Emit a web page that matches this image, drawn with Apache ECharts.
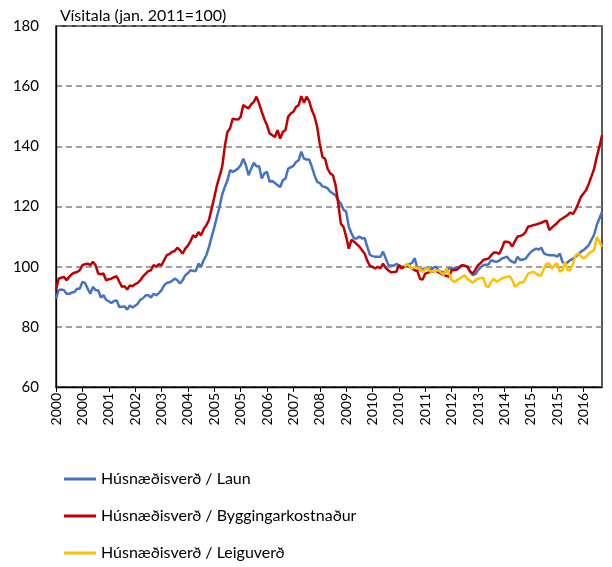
<!DOCTYPE html>
<html>
<head>
<meta charset="utf-8">
<script src="https://cdn.jsdelivr.net/npm/echarts@6/dist/echarts.min.js"></script>
<style>
html,body{margin:0;padding:0;background:#fff;}
#c{width:612px;height:567px;}
</style>
</head>
<body>
<div id="c"></div>
<script>
// Monthly values, Jan 2000 – Apr 2017 (index Jan 2011 = 100)
const startYear = 2000;
const seriesNames = ['Húsnæðisverð / Laun', 'Húsnæðisverð / Byggingarkostnaður', 'Húsnæðisverð / Leiguverð'];
const yTicks = [60, 80, 100, 120, 140, 160, 180];
const titleText = 'Vísitala (jan. 2011=100)';

const laun = [
  89.4,92.2,92.4,92.2,91,91,91.4,91.6,92.7,92.7,94.9,94.6,
  92.7,91,93.3,92.2,92.2,89.7,90.5,89,88.5,87.9,88.6,88.8,
  86.6,86.7,86.8,85.7,87.1,86.4,87,87.7,89,89.5,90.5,90.5,
  89.7,91,90.5,91.2,92.2,93.8,94.6,94.8,95.3,96,95.5,94.4,
  95.5,97.1,97.8,98.8,98.6,98.6,101,100,102.2,103.8,106.6,109.9,
  113,116.5,119.9,124,126.5,128.7,132.1,131.5,132,132.6,133.7,135.9,
  133.7,130.4,132.6,134.5,133.4,133.4,129.3,131,131.5,128.2,128.5,127.8,
  127.1,126.5,128.7,129.3,132.6,133,133.5,134.8,135.4,138.2,135.9,135.6,
  135.6,133.2,130.4,128.2,127.8,126.7,126.5,126,124.9,124.3,123.7,122.1,
  121,118.9,118.3,113.3,111.1,109.4,109.4,110,109.4,109.5,106.7,103.9,
  103.5,103.3,103.3,103.3,105,102.8,100.5,100.4,100.3,100.9,100.5,100,
  100,100.5,100.8,101.3,102.8,99.4,98.8,99.2,99.4,99.3,99,99.6,
  100,98.8,98.3,98,98.5,99.4,99.4,99.5,99.8,100,100.5,100.2,
  100,98.5,97.2,97.5,98.8,99.8,100.5,100.6,100.8,102.2,101.8,101.6,
  102,102.7,103,103.3,102.2,101.6,101.3,103.3,102.2,102.4,102.6,103.8,
  104.9,105.5,106,105.7,106.3,104.4,104,103.8,103.8,103.8,103.3,104.4,
  101.6,100.9,101.5,102.2,102.7,103.3,104,105,105.5,106.3,107.2,108.9,
  110.6,113.8,116,118.2
];

const byggingarkostnadur = [
  92.2,96,96.3,96.6,95.5,96.6,97.5,98,98.2,98.8,100.5,100.8,
  101,100.5,101.6,100.5,97.7,97.5,97.7,95.5,95.8,96,96.5,96.8,
  95,93.3,93.5,92.4,93.8,93.5,94.2,94.6,95.5,96.8,97.7,98.5,
  98.8,100.5,100,100.8,100.4,102.2,103.8,104.2,104.9,105.2,106.3,105.5,
  104.3,106,107,108.5,110.4,109.8,111.5,110.4,112.5,113.8,115.5,119.3,
  123,127,130,133.2,140,144.8,146,149.2,149,148.9,149.8,153.7,
  153.1,152.6,154,154.8,156.5,154.2,151.5,149,147,144.3,143.7,143.1,
  145.4,142.6,144.8,145.4,149.8,150.9,151.5,153.1,153.7,156.7,154.5,156.5,
  155,152,150,146.5,140.9,136.5,135.9,132.5,131,130.4,127.1,121,
  114.3,113.2,110,106,108.9,108.3,107.5,106.7,105.5,104.4,102,100.2,
  100,99.4,100,99.4,101,99.6,98.8,98.1,98.2,98.3,100.5,99.4,
  100,100.5,100,99.4,98.8,98.5,96,95.7,97.7,98,98.3,98.5,
  98.6,98.2,97.7,97.2,97,96.6,98.8,98.9,99,99.8,100.5,100.3,
  100,98.3,97.7,99,100.5,101.2,102.2,102.5,102.7,103.8,104.7,104.7,
  104.2,106,108.3,108.3,108,106.7,108.5,110,110.2,110.6,111.5,113.3,
  113.5,113.8,114,114.3,114.6,115,115.3,112.2,113,113.8,114.5,115.5,
  116,116.6,117.2,118,117.5,119,121,123.2,124.3,125.5,127.6,130,
  132.5,136.5,139.8,143.7
];

// Rent-based ratio starts Jan 2011 (month index 132)
const leiguStart = 132;
const leiguverd = [
  100,100.9,100.2,99.4,100,99.5,99.1,98.3,99.2,99.4,98.3,98.5,
  98.6,98.8,98,97.2,99.4,97.7,95.5,94.9,95.5,96,96.6,97.1,
  96,95.3,94.6,95.5,96,96.2,96.3,93.5,93.3,95,96,94.9,
  95.5,96,96.4,96.6,96.8,95.5,93.3,94,94.9,94.6,96,97.7,
  98,98.3,97.7,97.1,97.1,99.4,101,101,99.4,100.5,101,98.3,
  98.8,101.6,98.8,98.8,101,103.8,104.4,103.5,102.7,103.3,104.4,105,
  105.5,109.9,108.3,106.6
];

const categories = laun.map((_, i) => String(startYear + Math.floor(i / 12)));
const leiguFull = categories.map((_, i) => (i >= leiguStart ? leiguverd[i - leiguStart] : null));

const FONT = 'Lato, "Open Sans", sans-serif';
const chart = echarts.init(document.getElementById('c'), null, {renderer: 'canvas'});
chart.setOption({
  animation: false,
  backgroundColor: '#fff',
  title: {
    text: titleText,
    left: 55, top: 3,
    textStyle: {fontFamily: FONT, fontSize: 16, fontWeight: 'normal', color: '#000'}
  },
  grid: {
    left: 56, right: 10, top: 26, bottom: 180,
    show: true, borderColor: '#000', borderWidth: 1.3, backgroundColor: 'transparent'
  },
  legend: {
    orient: 'vertical',
    left: 64, top: 470, height: 97,
    padding: 0,
    itemGap: 19,
    itemWidth: 32, itemHeight: 3,
    icon: 'rect',
    textStyle: {fontFamily: FONT, fontSize: 16, color: '#000', lineHeight: 18},
    data: seriesNames
  },
  xAxis: {
    type: 'category',
    data: categories,
    boundaryGap: false,
    axisLine: {show: true, lineStyle: {color: '#000', width: 1.3}},
    axisTick: {show: true, length: 5, interval: (i) => i % 10 === 0, lineStyle: {color: '#000'}},
    axisLabel: {
      interval: (i) => i % 10 === 0,
      rotate: 90, margin: 6,
      fontFamily: FONT, fontSize: 14, color: '#000'
    },
    splitLine: {show: false}
  },
  yAxis: {
    type: 'value',
    min: yTicks[0], max: yTicks[yTicks.length - 1], interval: 20,
    axisLine: {show: true, lineStyle: {color: '#000', width: 1.3}},
    axisTick: {show: false},
    axisLabel: {fontFamily: FONT, fontSize: 15, color: '#000', margin: 17},
    splitLine: {show: true, lineStyle: {color: '#808080', type: [6, 4], width: 1.5}}
  },
  series: [
    {name: seriesNames[0], type: 'line', data: laun, showSymbol: false, symbol: 'none',
     lineStyle: {color: '#4472C4', width: 2.5}, itemStyle: {color: '#4472C4'}},
    {name: seriesNames[1], type: 'line', data: byggingarkostnadur, showSymbol: false, symbol: 'none',
     lineStyle: {color: '#C00000', width: 2.5}, itemStyle: {color: '#C00000'}},
    {name: seriesNames[2], type: 'line', data: leiguFull, showSymbol: false, symbol: 'none', connectNulls: false,
     lineStyle: {color: '#FFC000', width: 2.5}, itemStyle: {color: '#FFC000'}}
  ]
});
</script>
</body>
</html>
